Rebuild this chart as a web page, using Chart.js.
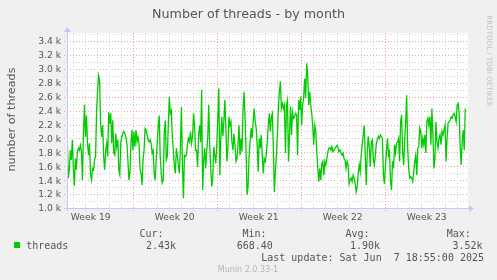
<!DOCTYPE html>
<html>
<head>
<meta charset="utf-8">
<script src="https://cdn.jsdelivr.net/npm/chart.js@4/dist/chart.umd.min.js"></script>
<style>
  html, body { margin: 0; padding: 0; background: #f0f0f0; }
  canvas { display: block; }
</style>
</head>
<body>
<canvas id="myChart" width="497" height="280"></canvas>
<script>
// number of threads (in thousands), one value every ~2 hours
const threadsPart1 = [
  1.98, 1.43, 1.55, 1.83, 1.69, 1.98, 1.57, 1.32, 1.71, 1.55,
  1.81, 1.86, 1.83, 1.90, 1.81, 1.40, 2.07, 2.48, 2.02, 2.33,
  1.93, 1.76, 1.93, 1.48, 1.40, 1.57, 1.55, 1.69, 1.74, 2.40,
  2.69, 2.90, 2.83, 2.21, 2.02, 2.19, 1.74, 1.55, 1.83, 1.93,
  1.74, 2.38, 2.21, 2.36, 1.93, 2.26, 1.79, 1.76, 2.07, 1.88,
  1.98, 1.55, 1.48, 1.95, 2.02, 2.07, 2.10, 2.07, 2.02, 1.93,
  1.69
];
const threadsPart2 = [
  1.40, 1.50, 1.93, 2.12, 1.83, 2.10, 1.88, 2.12, 1.95, 2.02,
  1.93, 1.55, 1.50, 1.33, 1.69, 1.83, 2.14, 2.12, 2.05, 1.98,
  1.95, 1.98, 1.93, 1.79, 1.83, 1.50, 1.40, 1.69, 1.93, 2.17,
  2.33, 1.74, 1.50, 1.36, 1.40, 2.07, 2.26, 1.69, 1.74, 2.19,
  2.60, 2.36, 2.40, 2.02, 1.83, 1.60, 1.50, 1.86, 1.74, 1.60,
  1.50, 1.88, 2.45, 1.64, 1.14, 1.76, 1.74, 1.76, 1.93, 2.00,
  1.95, 2.10, 1.93, 2.02, 2.36, 2.19, 1.83
];
const threadsPart3 = [
  1.83, 1.59, 2.05, 2.19, 1.95, 2.70, 1.26, 1.67, 1.86, 1.57,
  1.81, 2.00, 2.48, 1.91, 1.57, 1.31, 1.43, 1.88, 1.76, 1.64,
  1.91, 2.29, 2.72, 1.47, 2.00, 2.31, 2.03, 2.24, 2.55, 2.15,
  1.67, 1.86, 2.31, 2.19, 2.24, 1.95, 1.83, 2.07, 1.91, 1.67,
  1.71, 1.91, 2.19, 1.76, 2.00, 1.81, 2.41, 2.67, 2.29, 1.81,
  1.19, 1.31, 1.76, 1.95, 2.15, 2.00, 2.24, 2.43, 2.24, 2.15,
  1.91, 1.52, 2.00, 1.86, 2.05, 1.76, 1.50, 1.71
];
const threadsPart4 = [
  1.67, 1.76, 1.95, 2.19, 2.36, 2.10, 2.31, 2.36, 1.86, 1.23,
  1.52, 1.76, 2.05, 2.43, 2.67, 2.82, 2.43, 2.50, 2.43, 2.48,
  1.79, 2.48, 2.55, 1.67, 2.05, 2.46, 2.05, 2.38, 2.29, 2.31,
  2.36, 2.34, 1.76, 2.55, 2.41, 2.60, 2.19, 2.48, 2.58, 2.86,
  2.58, 3.08, 2.91, 2.48, 2.67, 2.48, 2.36, 2.17, 1.91, 2.19,
  2.10, 1.81, 1.57, 1.38, 1.57, 1.40, 1.64, 1.67, 1.47, 1.67,
  1.62, 1.71, 1.81, 1.86, 1.87, 1.83, 1.88, 1.81
];
const threadsPart5 = [
  1.83, 1.86, 1.88, 1.90, 1.87, 1.81, 1.83, 1.79, 1.76, 1.79,
  1.71, 1.69, 1.57, 1.67, 1.62, 1.35, 1.40, 1.43, 1.38, 1.47,
  1.43, 1.35, 1.23, 1.31, 1.50, 1.62, 1.52, 1.76, 1.91, 2.05,
  2.19, 1.76, 1.33, 1.81, 2.03, 1.88, 1.59, 1.95, 1.98, 1.71,
  1.62, 1.76, 1.93, 1.98, 2.03, 2.00, 2.05, 2.03, 2.00, 1.47,
  1.35, 1.62, 1.81, 2.00, 1.76, 1.81, 1.38, 1.26, 1.67, 1.57,
  1.91, 1.79, 1.93, 1.95, 2.00, 1.67, 2.24, 2.34
];
const threadsPart6 = [
  1.81, 1.62, 1.95, 2.24, 2.62, 1.86, 1.57, 1.43, 1.45, 1.43,
  1.38, 1.52, 1.67, 1.76, 1.47, 1.86, 1.88, 2.15, 2.10, 1.86,
  2.00, 1.91, 2.05, 1.79, 2.24, 2.29, 2.19, 2.31, 1.91, 2.43,
  2.05, 1.57, 1.71, 2.24, 1.95, 1.86, 2.00, 2.05, 1.91, 2.10,
  2.05, 2.12, 2.19, 1.67, 2.00, 2.22, 2.24, 2.26, 2.31, 2.29,
  2.34, 2.36, 2.31, 2.24, 2.48, 2.50, 2.36, 1.86, 1.62, 1.95,
  2.12, 1.83, 2.43
];

const threads = [
  ...threadsPart1, ...threadsPart2, ...threadsPart3,
  ...threadsPart4, ...threadsPart5, ...threadsPart6
];

const hoursPerSample = 2.02;
const week19StartHour = -37.2;
const weekLabels = ["Week 19", "Week 20", "Week 21", "Week 22", "Week 23"];
const yTicks = [1.0, 1.2, 1.4, 1.6, 1.8, 2.0, 2.2, 2.4, 2.6, 2.8, 3.0, 3.2, 3.4];

const legendHeads = ["Cur:", "Min:", "Avg:", "Max:"];
const legendValues = ["2.43k", "668.40", "1.90k", "3.52k"];
const lastUpdate = "Last update: Sat Jun  7 18:55:00 2025";

const SANS = "'DejaVu Sans', sans-serif";
const MONO = "'DejaVu Sans Mono', monospace";
const TEXT = "#555555";
const AXIS = "#c4c8f4";

const puntos = threads.map((v, i) => ({ x: i * hoursPerSample, y: v }));

function dotted(ctx, x1, y1, x2, y2, color) {
  ctx.strokeStyle = color;
  ctx.beginPath();
  ctx.moveTo(x1, y1);
  ctx.lineTo(x2, y2);
  ctx.stroke();
}

const muninFondo = {
  id: "muninFondo",
  beforeDraw(chart) {
    const ctx = chart.ctx;
    const a = chart.chartArea;
    const sx = chart.scales.x;
    const sy = chart.scales.y;
    ctx.save();
    ctx.fillStyle = "#f0f0f0";
    ctx.fillRect(0, 0, chart.width, chart.height);
    ctx.fillStyle = "#ffffff";
    ctx.fillRect(a.left, a.top, a.right - a.left, a.bottom - a.top);

    ctx.lineWidth = 1;
    ctx.setLineDash([1, 2]);
    // horizontal grid, every 0.1k, red on the labelled ones
    for (let h = 11; h <= 35; h++) {
      const py = Math.round(sy.getPixelForValue(h / 10)) + 0.5;
      if (py < a.top) continue;
      const color = h % 2 === 0 ? "#f2a0a0" : "#d4d4d4";
      dotted(ctx, a.left - 3, py, a.right, py, color);
    }
    // vertical grid, one per day, red on week starts
    for (let d = 0; week19StartHour + d * 24 <= sx.max; d++) {
      const t = week19StartHour + d * 24;
      if (t < sx.min) continue;
      const px = Math.round(sx.getPixelForValue(t)) + 0.5;
      const color = d % 7 === 0 ? "#f2a0a0" : "#d4d4d4";
      dotted(ctx, px, a.top, px, a.bottom + 3, color);
    }
    ctx.restore();
  },
  afterDraw(chart) {
    const ctx = chart.ctx;
    const a = chart.chartArea;
    const sx = chart.scales.x;
    const sy = chart.scales.y;
    ctx.save();

    // axes with arrows
    ctx.strokeStyle = AXIS;
    ctx.fillStyle = AXIS;
    ctx.lineWidth = 1;
    const bx = a.left + 0.5;
    const by = a.bottom + 0.5;
    ctx.beginPath();
    ctx.moveTo(a.left - 3, by);
    ctx.lineTo(a.right + 2, by);
    ctx.moveTo(bx, a.bottom + 3);
    ctx.lineTo(bx, a.top - 2);
    ctx.stroke();
    ctx.beginPath();
    ctx.moveTo(a.right + 1, by - 3.5);
    ctx.lineTo(a.right + 6, by);
    ctx.lineTo(a.right + 1, by + 3.5);
    ctx.fill();
    ctx.beginPath();
    ctx.moveTo(bx - 3.5, a.top - 1);
    ctx.lineTo(bx, a.top - 6);
    ctx.lineTo(bx + 3.5, a.top - 1);
    ctx.fill();

    // title
    ctx.fillStyle = TEXT;
    ctx.font = "12.7px " + SANS;
    ctx.textAlign = "center";
    ctx.textBaseline = "alphabetic";
    ctx.fillText("Number of threads - by month", 248.5, 17.5);

    // y tick labels
    ctx.font = "9.2px " + SANS;
    ctx.textAlign = "right";
    yTicks.forEach((v) => {
      ctx.fillText(v.toFixed(1) + " k", a.left - 6, sy.getPixelForValue(v) + 3.4);
    });

    // week labels
    ctx.textAlign = "center";
    weekLabels.forEach((lbl, i) => {
      const t = week19StartHour + 84 + i * 168;
      ctx.fillText(lbl, sx.getPixelForValue(t), 220);
    });

    // y title
    ctx.save();
    ctx.translate(14.5, 119.5);
    ctx.rotate(-Math.PI / 2);
    ctx.font = "11.2px " + SANS;
    ctx.textAlign = "center";
    ctx.fillText("number of threads", 0, 0);
    ctx.restore();

    // watermark
    ctx.save();
    ctx.translate(486.5, 61);
    ctx.rotate(Math.PI / 2);
    ctx.fillStyle = "#c0c0c0";
    ctx.font = "7.1px " + SANS;
    ctx.textAlign = "center";
    ctx.fillText("RRDTOOL / TOBI OETIKER", 0, 0);
    ctx.restore();

    // legend
    ctx.fillStyle = "#00cc00";
    ctx.fillRect(14, 242, 6, 6);
    ctx.fillStyle = TEXT;
    ctx.font = "10px " + MONO;
    ctx.textAlign = "left";
    ctx.fillText("threads", 26.2, 249);
    const headX = [139.5, 242.5, 345.5, 446.7];
    const valX = [146, 236.7, 350, 452.4];
    legendHeads.forEach((h, i) => ctx.fillText(h, headX[i], 236.7));
    legendValues.forEach((v, i) => ctx.fillText(v, valX[i], 248.7));
    ctx.textAlign = "right";
    ctx.fillText(lastUpdate, 484, 260.7);

    ctx.fillStyle = "#b4b4b4";
    ctx.font = "8px " + SANS;
    ctx.textAlign = "center";
    ctx.fillText("Munin 2.0.33-1", 248, 271.7);
    ctx.restore();
  }
};

const chartDOM = document.getElementById("myChart").getContext("2d");
const miGrafica = new Chart(chartDOM, {
  type: "line",
  data: {
    datasets: [
      {
        label: "threads",
        data: puntos,
        borderColor: "#00cc00",
        borderWidth: 1.3,
        pointRadius: 0,
        tension: 0,
        fill: false
      }
    ]
  },
  options: {
    responsive: false,
    animation: false,
    devicePixelRatio: 1,
    layout: { padding: { left: 67, right: 29, top: 33, bottom: 72 } },
    scales: {
      x: { type: "linear", min: -0.6, max: 801.4, display: false },
      y: { min: 1.0, max: 3.515, display: false }
    },
    plugins: {
      legend: { display: false },
      tooltip: { enabled: false }
    }
  },
  plugins: [muninFondo]
});
</script>
</body>
</html>
